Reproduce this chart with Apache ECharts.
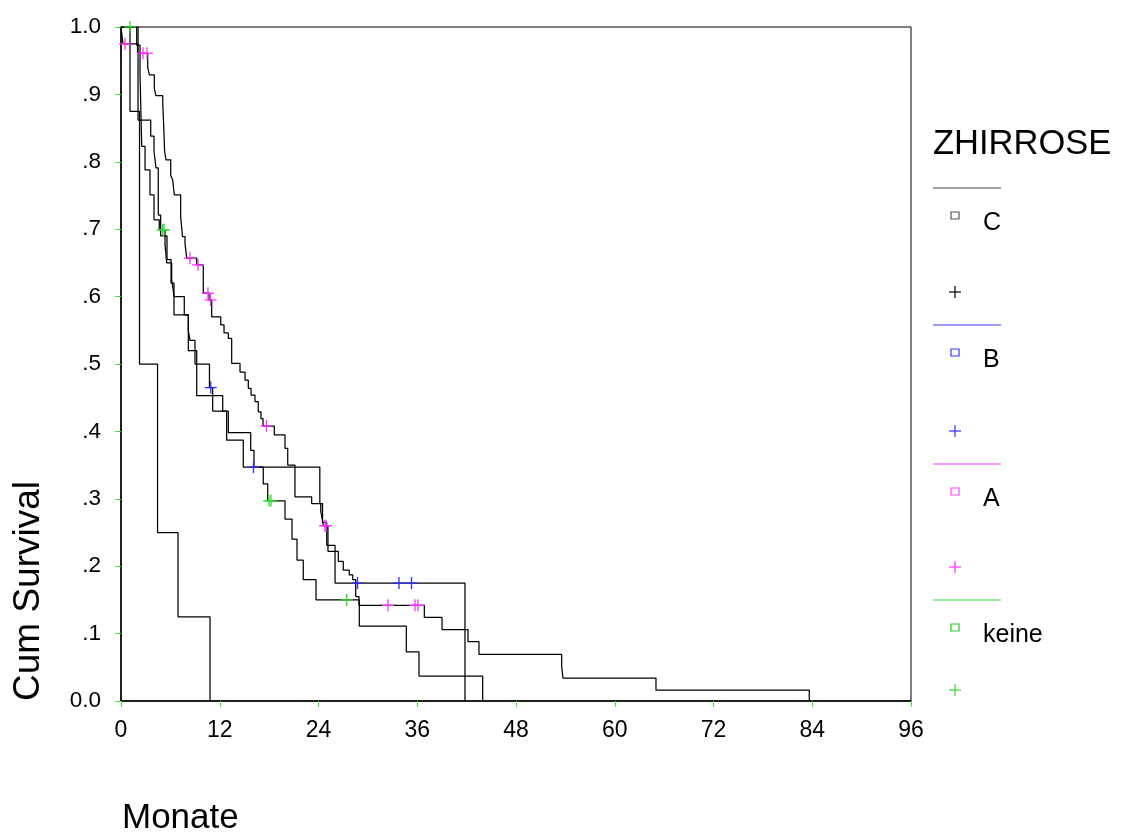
<!DOCTYPE html>
<html>
<head>
<meta charset="utf-8">
<script src="https://cdn.jsdelivr.net/npm/echarts@6/dist/echarts.min.js"></script>
<style>html,body{margin:0;padding:0;background:#fff;}#chart{width:1125px;height:837px;}</style>
</head>
<body>
<div id="chart"></div>
<script>
// ---- Data (months, cumulative survival) ----
const groups = ['C', 'B', 'A', 'keine'];

const C_t = [0, 1.09, 2.25, 4.44, 6.93, 10.82];
const C_s = [1, 0.875, 0.5, 0.25, 0.125, 0];
const C_censT = [];
const C_censS = [];

const B_t = [0, 2.07, 3.61, 4.01, 4.25, 4.53, 4.82, 5.59, 6.08, 6.44, 8.18, 8.38, 8.99, 10.75, 11.14, 12.84, 14.86, 24.16, 24.49, 25.00, 26.01, 41.80];
const B_s = [1, 0.862, 0.838, 0.816, 0.791, 0.721, 0.690, 0.655, 0.620, 0.573, 0.550, 0.535, 0.500, 0.465, 0.430, 0.387, 0.347, 0.293, 0.265, 0.231, 0.175, 0];
const B_censT = [10.91, 16.10, 28.74, 33.78, 35.30];
const B_censS = [0.465, 0.347, 0.175, 0.175, 0.175];

const A_t = [0, 0.24, 2.01, 3.24, 3.44, 4.05, 4.25, 5.07, 5.20, 5.30, 5.47, 6.04, 6.28, 6.48, 7.25, 7.47, 7.78, 7.98, 9.20, 10.00, 10.69, 11.02, 12.12, 12.52, 13.04, 13.45, 14.46, 15.07, 15.47, 15.80, 16.28, 16.68, 17.01, 17.26, 18.63, 19.93, 20.26, 21.14, 23.17, 24.27, 24.43, 24.58, 25.15, 26.41, 27.01, 27.74, 28.16, 28.52, 28.92, 36.86, 39.01, 42.17, 43.50, 53.55, 53.71, 65.01, 83.64];
const A_s = [1, 0.975, 0.961, 0.941, 0.929, 0.909, 0.898, 0.889, 0.850, 0.815, 0.803, 0.780, 0.773, 0.751, 0.719, 0.689, 0.679, 0.657, 0.647, 0.605, 0.595, 0.570, 0.558, 0.546, 0.538, 0.501, 0.488, 0.476, 0.464, 0.454, 0.444, 0.429, 0.419, 0.408, 0.395, 0.375, 0.350, 0.303, 0.293, 0.282, 0.272, 0.260, 0.222, 0.207, 0.194, 0.187, 0.180, 0.155, 0.142, 0.124, 0.106, 0.088, 0.069, 0.051, 0.034, 0.016, 0];
const A_censT = [0.49, 2.67, 3.16, 8.38, 9.36, 10.57, 10.88, 17.68, 24.79, 24.91, 32.45, 35.73, 36.09];
const A_censS = [0.975, 0.961, 0.961, 0.657, 0.647, 0.605, 0.595, 0.408, 0.260, 0.260, 0.142, 0.142, 0.142];

const K_t = [0, 1.91, 2.31, 2.52, 2.92, 3.52, 4.01, 4.65, 5.35, 5.55, 6.16, 6.36, 6.44, 7.69, 8.18, 9.20, 12.36, 13.04, 15.76, 16.16, 17.29, 17.83, 19.93, 20.78, 21.39, 22.15, 23.70, 28.96, 34.67, 36.21, 43.95];
const K_s = [1, 0.973, 0.930, 0.823, 0.788, 0.751, 0.714, 0.699, 0.677, 0.650, 0.625, 0.608, 0.600, 0.573, 0.520, 0.453, 0.430, 0.398, 0.372, 0.347, 0.322, 0.297, 0.270, 0.240, 0.209, 0.180, 0.150, 0.111, 0.073, 0.037, 0];
const K_censT = [1.09, 5.07, 5.23, 17.99, 18.23, 27.43];
const K_censS = [1.0, 0.699, 0.699, 0.297, 0.297, 0.150];

const xTicks = [0, 12, 24, 36, 48, 60, 72, 84, 96];
const yTickLabels = ['0.0', '.1', '.2', '.3', '.4', '.5', '.6', '.7', '.8', '.9', '1.0'];

// ---- Styling ----
const FONT = "'Liberation Sans', Arial, sans-serif";
const censColor = { C: '#000000', B: '#2f2fff', A: '#ff30ff', keine: '#2fdc2f' };
const legLineColor = { C: '#808080', B: '#7777ff', A: '#ff77ff', keine: '#77ee77' };
const legSqColor = { C: '#555555', B: '#3333ff', A: '#ff44ff', keine: '#22cc22' };
const legLayout = { x: 933, lineY: [188, 325, 464, 600], crossY: [292, 431, 567, 690] };

const curves = {
  C: { t: C_t, s: C_s, ct: C_censT, cs: C_censS },
  B: { t: B_t, s: B_s, ct: B_censT, cs: B_censS },
  A: { t: A_t, s: A_s, ct: A_censT, cs: A_censS },
  keine: { t: K_t, s: K_s, ct: K_censT, cs: K_censS }
};

const series = [];
groups.forEach(g => {
  const c = curves[g];
  series.push({
    name: g, type: 'line', step: 'end', showSymbol: false, animation: false,
    data: c.t.map((t, i) => [t, c.s[i]]),
    lineStyle: { color: '#000', width: 1.25 }, z: 2
  });
});
groups.forEach(g => {
  const c = curves[g];
  if (!c.ct.length) return;
  const col = censColor[g];
  series.push({
    name: g + ' censored', type: 'custom', animation: false, z: 5,
    data: c.ct.map((t, i) => [t, c.cs[i]]),
    renderItem: function (params, api) {
      const p = api.coord([api.value(0), api.value(1)]);
      const h = 6;
      return {
        type: 'group',
        children: [
          { type: 'line', shape: { x1: p[0] - h, y1: p[1], x2: p[0] + h, y2: p[1] }, style: { stroke: col, lineWidth: 1.3 } },
          { type: 'line', shape: { x1: p[0], y1: p[1] - h, x2: p[0], y2: p[1] + h }, style: { stroke: col, lineWidth: 1.3 } }
        ]
      };
    }
  });
});

// legend graphics
const graphic = [
  { type: 'text', left: legLayout.x, top: 127, style: { text: 'ZHIRROSE', font: '34.5px ' + FONT, fill: '#000' } },
  { type: 'text', x: 29, y: 591, rotation: Math.PI / 2, style: { text: 'Cum Survival', font: '37px ' + FONT, fill: '#000', align: 'center', verticalAlign: 'middle' } },
  { type: 'text', x: 122, y: 818, style: { text: 'Monate', font: '35px ' + FONT, fill: '#000', align: 'left', verticalAlign: 'middle' } }
];
groups.forEach((g, i) => {
  const ly = legLayout.lineY[i], cy = legLayout.crossY[i], x = legLayout.x;
  graphic.push({ type: 'line', shape: { x1: x, y1: ly, x2: x + 68, y2: ly }, style: { stroke: legLineColor[g], lineWidth: 1.3 } });
  graphic.push({ type: 'rect', shape: { x: 951, y: ly + 24, width: 8, height: 7 }, style: { fill: 'none', stroke: legSqColor[g], lineWidth: 1.2 } });
  graphic.push({ type: 'text', x: 983, y: ly + 35, style: { text: g, font: '25px ' + FONT, fill: '#000', align: 'left', verticalAlign: 'middle' } });
  graphic.push({ type: 'line', shape: { x1: 949, y1: cy, x2: 961, y2: cy }, style: { stroke: censColor[g], lineWidth: 1.2 } });
  graphic.push({ type: 'line', shape: { x1: 955, y1: cy - 6, x2: 955, y2: cy + 6 }, style: { stroke: censColor[g], lineWidth: 1.2 } });
});

const chart = echarts.init(document.getElementById('chart'), null, { renderer: 'canvas' });
chart.setOption({
  backgroundColor: '#fff',
  animation: false,
  grid: { left: 121, top: 27, right: 214, bottom: 136, show: true, borderColor: '#000', borderWidth: 1, containLabel: false },
  xAxis: {
    type: 'value', min: 0, max: 96, interval: 12,
    axisLine: { show: true, onZero: false, lineStyle: { color: '#000', width: 1.5 } },
    axisTick: { show: true, length: 6, lineStyle: { color: '#44e044', width: 1 } },
    splitLine: { show: false },
    axisLabel: { color: '#000', fontFamily: FONT, fontSize: 23, margin: 18, formatter: v => xTicks.indexOf(v) >= 0 ? String(v) : '' }
  },
  yAxis: {
    type: 'value', min: 0, max: 1, interval: 0.1,
    axisLine: { show: true, onZero: false, lineStyle: { color: '#000', width: 1.5 } },
    axisTick: { show: true, length: 6, lineStyle: { color: '#44e044', width: 1 } },
    splitLine: { show: false },
    axisLabel: { color: '#000', fontFamily: FONT, fontSize: 22.5, margin: 20, formatter: v => yTickLabels[Math.round(v * 10)] }
  },
  series: series,
  graphic: graphic
});
</script>
</body>
</html>
